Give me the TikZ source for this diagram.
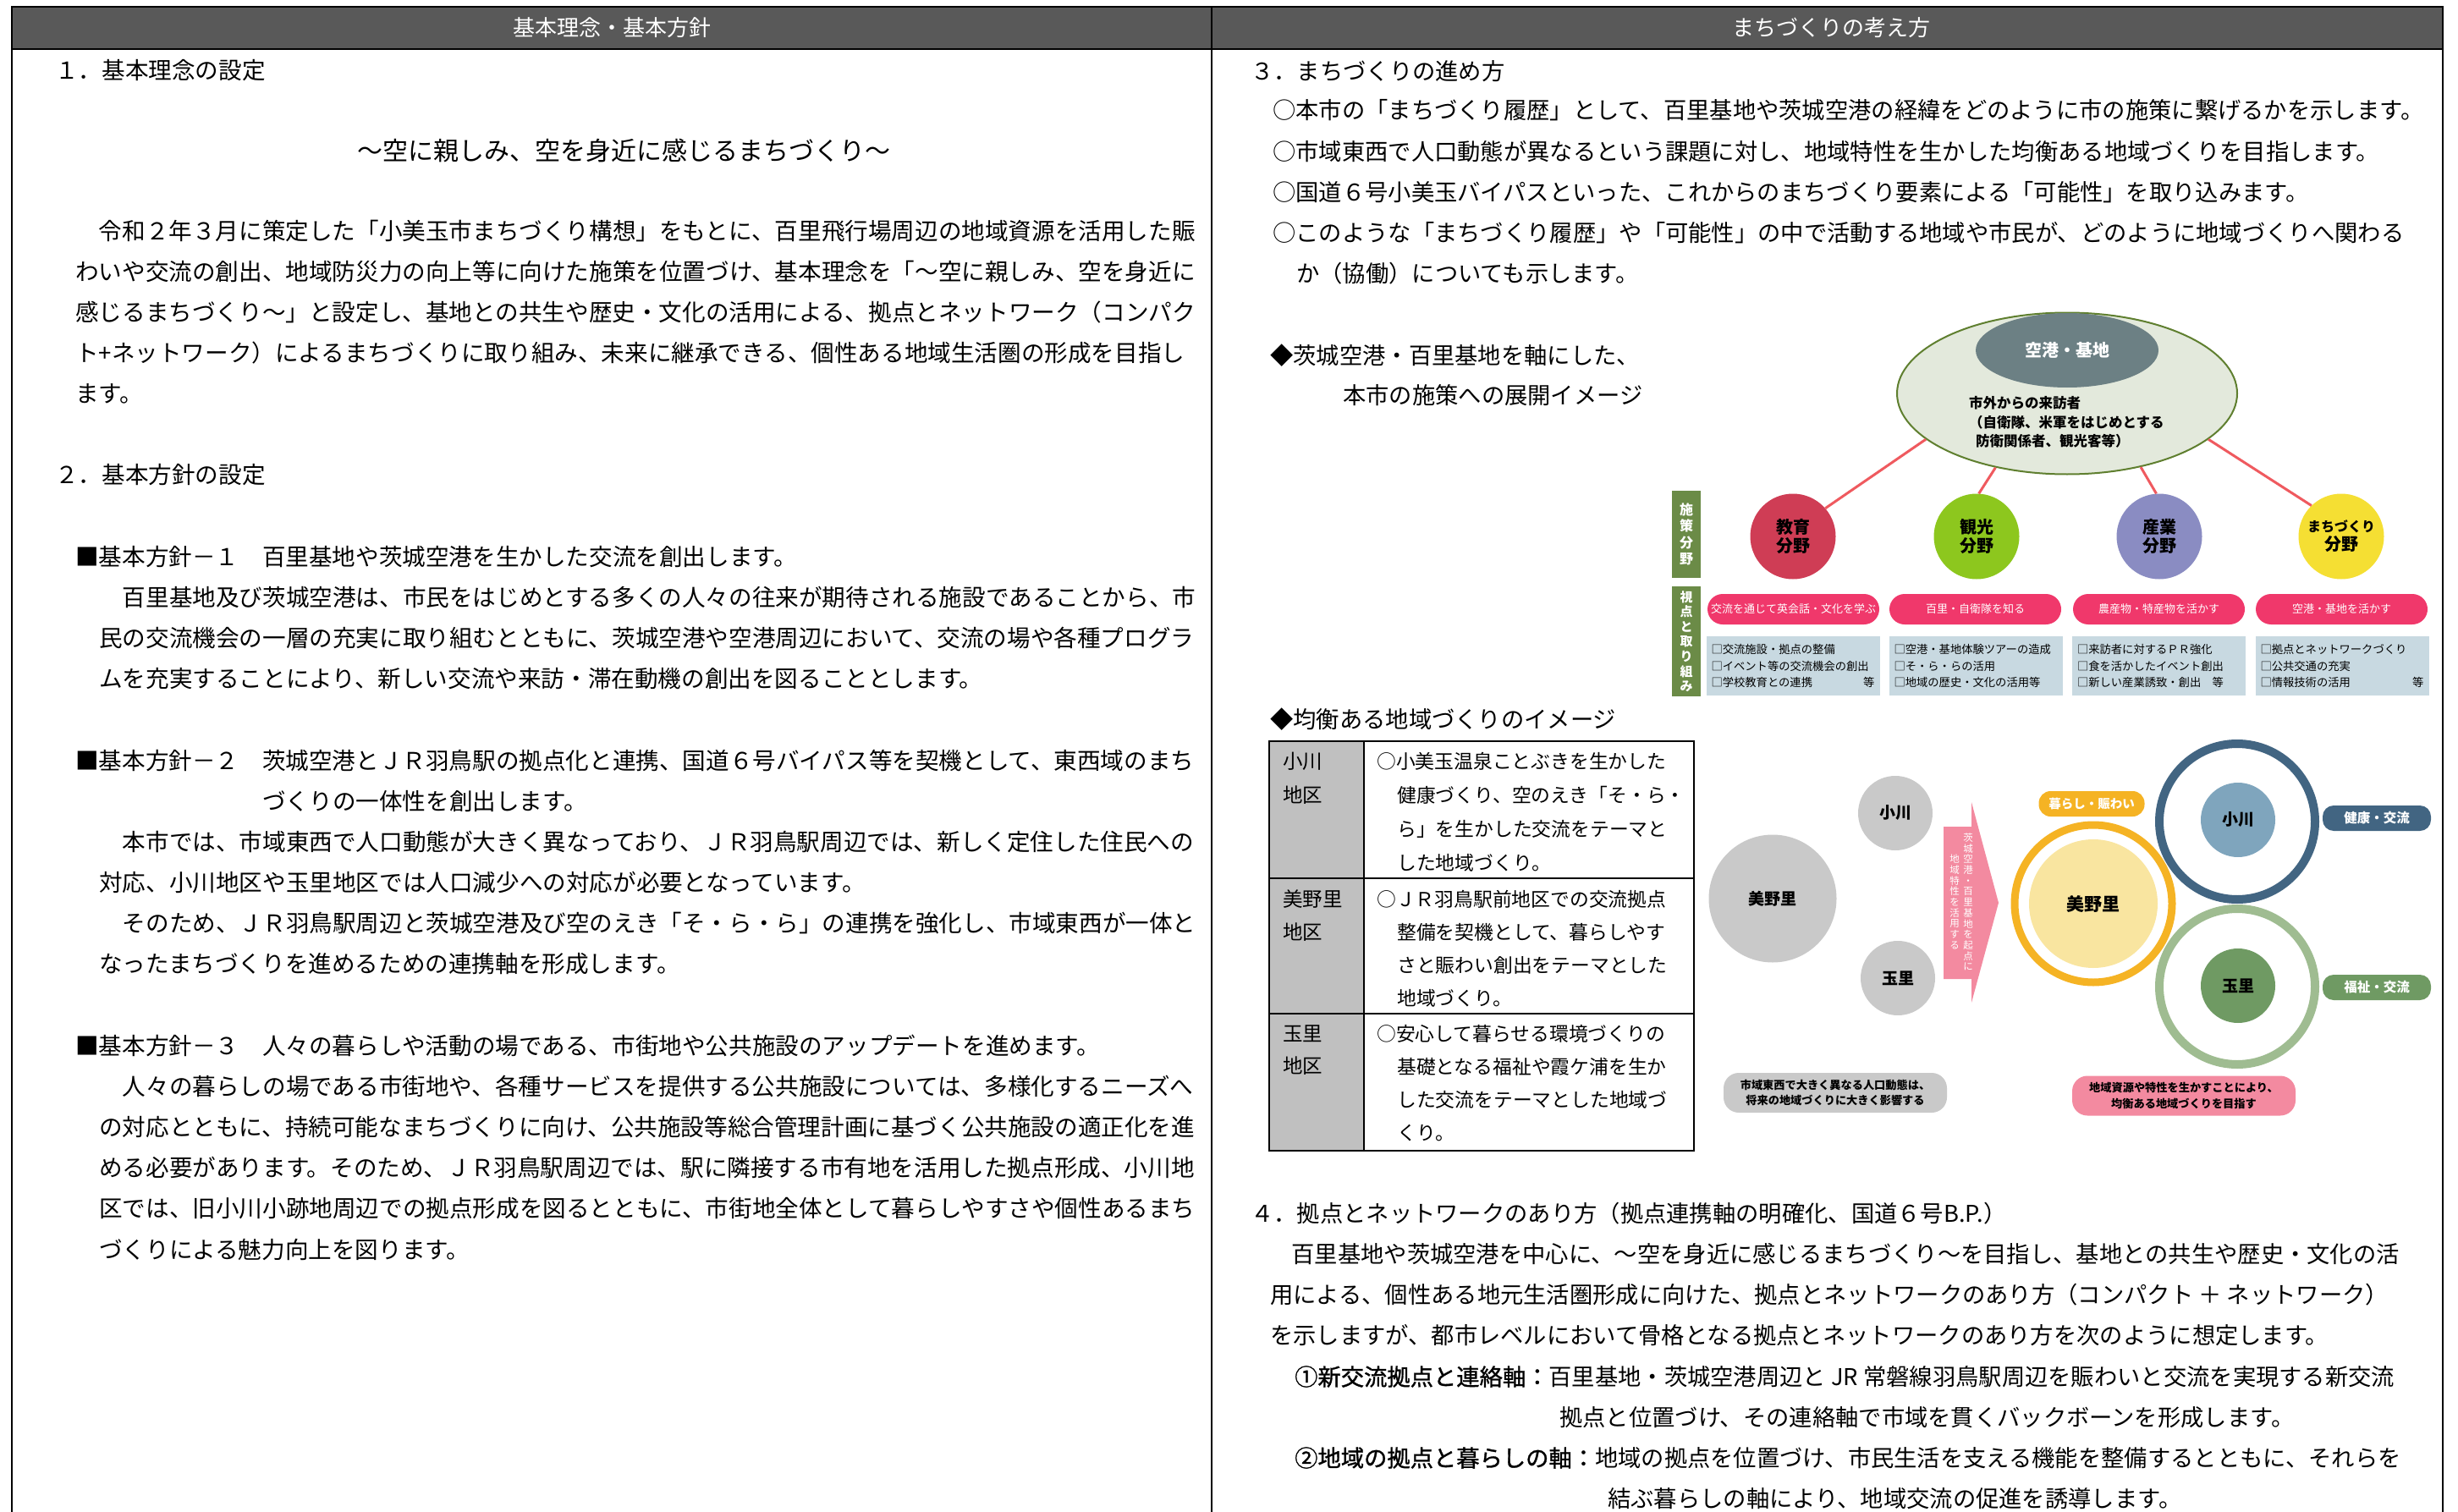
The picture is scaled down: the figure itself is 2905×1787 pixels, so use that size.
\documentclass[tikz,border=0pt]{standalone}
\usepackage{fontspec}
\setmainfont{Noto Sans CJK JP}
\newfontfamily\semib[FakeBold=1.2]{Noto Sans CJK JP}
\usetikzlibrary{shapes.geometric}
\definecolor{hdr}{HTML}{595959}
\definecolor{elfill}{HTML}{E3E9DC}
\definecolor{elline}{HTML}{5F7F2F}
\definecolor{slate}{HTML}{6C8084}
\definecolor{cedu}{HTML}{CF3D55}
\definecolor{ctour}{HTML}{8DC71E}
\definecolor{cind}{HTML}{8A8CC2}
\definecolor{ctown}{HTML}{F5DF33}
\definecolor{redline}{HTML}{EF5A5F}
\definecolor{pinkbar}{HTML}{F0386B}
\definecolor{lblue}{HTML}{C8D9E1}
\definecolor{labgreen}{HTML}{6B8B47}
\definecolor{lgray}{HTML}{C9C9C9}
\definecolor{tgray}{HTML}{C0C0C0}
\definecolor{pinkarr}{HTML}{F38AA0}
\definecolor{orng}{HTML}{F5B324}
\definecolor{paleyel}{HTML}{F9E5A0}
\definecolor{dblue}{HTML}{426582}
\definecolor{ltblue}{HTML}{7FA5BD}
\definecolor{lgreen}{HTML}{9FBC91}
\definecolor{mgreen}{HTML}{6F9A63}
\newcommand{\fs}[2]{\fontsize{#1pt}{#2pt}\selectfont}
\begin{document}
\begin{tikzpicture}[x=1pt,y=-1pt,
  frame/.style={line width=2.2pt, black},
  hdrtext/.style={inner sep=0pt, text=white, font=\fs{26}{30}},
  body/.style={anchor=west, inner sep=0pt, font=\fs{27.6}{33}},
  bodyr/.style={anchor=west, inner sep=0pt, font=\fs{27.3}{33}},
  titlef/.style={inner sep=0pt, font=\fs{30}{36}},
  tbl/.style={anchor=west, inner sep=0pt, font=\fs{22.8}{28}},
  tblh/.style={anchor=west, inner sep=0pt, font=\fs{23.5}{28}},
  field/.style={circle, minimum size=101pt, inner sep=0pt, align=center, font=\bfseries\fs{20}{22}},
  conn/.style={redline, line width=3pt},
  pbar/.style={rectangle, rounded corners=18pt, fill=pinkbar, minimum width=203pt, minimum height=36pt, inner sep=0pt, text=white, font=\fs{13}{14}},
  bluebox/.style={rectangle, fill=lblue, minimum width=205pt, minimum height=70pt, inner sep=6pt, text width=193pt, align=left, font=\fs{13.3}{19.5}},
  glabel/.style={rectangle, fill=labgreen, minimum width=34pt, inner sep=0pt, text=white, align=center},
  gcirc/.style={circle, fill=lgray, inner sep=0pt, font=\bfseries\fs{19}{22}},
  arrtext/.style={align=center, inner sep=0pt, text=white, font=\fs{11.5}{12.7}},
  tag/.style={rectangle, rounded corners=13pt, minimum width=128pt, minimum height=30pt, inner sep=0pt, text=white, font=\bfseries\fs{15.5}{18}},
  note/.style={rectangle, rounded corners=18pt, minimum width=264pt, minimum height=47pt, inner sep=0pt, align=center, font=\bfseries\fs{13.2}{18.5}}
]
\useasboundingbox (0,0) rectangle (2905,1787);
% frame and header
\fill[hdr] (14,8) rectangle (2887,58);
\draw[frame] (14,1787) -- (14,8) -- (2887,8) -- (2887,1787);
\draw[frame] (14,58) -- (2887,58);
\draw[frame] (1432,8) -- (1432,1787);
\node[hdrtext] (hL) at (723,33) {基本理念・基本方針};
\node[hdrtext] (hR) at (2164,33) {まちづくりの考え方};

% ---------------- left column ----------------
\node[body] (t1) at (65,83) {１．基本理念の設定};
\node[titlef] (motto) at (737,178) {～空に親しみ、空を身近に感じるまちづくり～};
\node[body] (p1a) at (89,273) {　令和２年３月に策定した「小美玉市まちづくり構想」をもとに、百里飛行場周辺の地域資源を活用した賑};
\node[body] (p1b) at (89,321) {わいや交流の創出、地域防災力の向上等に向けた施策を位置づけ、基本理念を「～空に親しみ、空を身近に};
\node[body] (p1c) at (89,369) {感じるまちづくり～」と設定し、基地との共生や歴史・文化の活用による、拠点とネットワーク（コンパク};
\node[body] (p1d) at (89,417) {ト+ネットワーク）によるまちづくりに取り組み、未来に継承できる、個性ある地域生活圏の形成を目指し};
\node[body] (p1e) at (89,465) {ます。};
\node[body] (t2) at (65,561) {２．基本方針の設定};
\node[body] (b1) at (89,658) {■基本方針－１　百里基地や茨城空港を生かした交流を創出します。};
\node[body] (b1a) at (117,706) {　百里基地及び茨城空港は、市民をはじめとする多くの人々の往来が期待される施設であることから、市};
\node[body] (b1b) at (117,754) {民の交流機会の一層の充実に取り組むとともに、茨城空港や空港周辺において、交流の場や各種プログラ};
\node[body] (b1c) at (117,802) {ムを充実することにより、新しい交流や来訪・滞在動機の創出を図ることとします。};
\node[body] (b2) at (89,899) {■基本方針－２　茨城空港とＪＲ羽鳥駅の拠点化と連携、国道６号バイパス等を契機として、東西域のまち};
\node[body] (b2x) at (310,947) {づくりの一体性を創出します。};
\node[body] (b2a) at (117,995) {　本市では、市域東西で人口動態が大きく異なっており、ＪＲ羽鳥駅周辺では、新しく定住した住民への};
\node[body] (b2b) at (117,1043) {対応、小川地区や玉里地区では人口減少への対応が必要となっています。};
\node[body] (b2c) at (117,1091) {　そのため、ＪＲ羽鳥駅周辺と茨城空港及び空のえき「そ・ら・ら」の連携を強化し、市域東西が一体と};
\node[body] (b2d) at (117,1139) {なったまちづくりを進めるための連携軸を形成します。};
\node[body] (b3) at (89,1236) {■基本方針－３　人々の暮らしや活動の場である、市街地や公共施設のアップデートを進めます。};
\node[body] (b3a) at (117,1284) {　人々の暮らしの場である市街地や、各種サービスを提供する公共施設については、多様化するニーズへ};
\node[body] (b3b) at (117,1332) {の対応とともに、持続可能なまちづくりに向け、公共施設等総合管理計画に基づく公共施設の適正化を進};
\node[body] (b3c) at (117,1380) {める必要があります。そのため、ＪＲ羽鳥駅周辺では、駅に隣接する市有地を活用した拠点形成、小川地};
\node[body] (b3d) at (117,1428) {区では、旧小川小跡地周辺での拠点形成を図るとともに、市街地全体として暮らしやすさや個性あるまち};
\node[body] (b3e) at (117,1477) {づくりによる魅力向上を図ります。};

% ---------------- right column ----------------
\node[bodyr] (t3) at (1478,84) {３．まちづくりの進め方};
\node[bodyr] (o1) at (1504,130) {○本市の「まちづくり履歴」として、百里基地や茨城空港の経緯をどのように市の施策に繋げるかを示します。};
\node[bodyr] (o2) at (1504,179) {○市域東西で人口動態が異なるという課題に対し、地域特性を生かした均衡ある地域づくりを目指します。};
\node[bodyr] (o3) at (1504,227) {○国道６号小美玉バイパスといった、これからのまちづくり要素による「可能性」を取り込みます。};
\node[bodyr] (o4) at (1504,275) {○このような「まちづくり履歴」や「可能性」の中で活動する地域や市民が、どのように地域づくりへ関わる};
\node[bodyr] (o4b) at (1532,323) {か（協働）についても示します。};
\node[bodyr] (d1) at (1501,420) {◆茨城空港・百里基地を軸にした、};
\node[bodyr] (d2) at (1587,467) {本市の施策への展開イメージ};
\node[bodyr] (d3) at (1501,850) {◆均衡ある地域づくりのイメージ};

% ---- policy diagram ----
\node[ellipse, draw=elline, fill=elfill, line width=2pt, minimum width=402pt, minimum height=191pt, inner sep=0pt] (visit) at (2443,465) {};
\node[ellipse, fill=slate, minimum width=216pt, minimum height=88pt, inner sep=0pt, text=white, font=\bfseries\fs{20}{22}] (base) at (2443,414) {空港・基地};
\node[anchor=west, inner sep=0pt, align=left, font=\bfseries\fs{16.5}{22.5}] (vtxt) at (2327,499) {市外からの来訪者\\（自衛隊、米軍をはじめとする\\\hspace*{8pt}防衛関係者、観光客等）};
\node[field, fill=cedu] (edu) at (2119,634) {教育\\分野};
\node[field, fill=ctour] (tour) at (2336,634) {観光\\分野};
\node[field, fill=cind] (ind) at (2552,634) {産業\\分野};
\node[field, fill=ctown] (town) at (2767,634) {{\fs{16}{22}まちづくり}\\分野};
\draw[conn] (visit.198) -- (edu.41);
\draw[conn] (visit.226) -- (tour.87);
\draw[conn] (visit.-45) -- (ind.94);
\draw[conn] (visit.-18) -- (town.134);
\node[glabel, minimum height=103pt, font=\bfseries\fs{16}{19.5}] (lab1) at (1993,631.5) {施\\策\\分\\野};
\node[glabel, minimum height=130pt, font=\bfseries\fs{15}{17.6}] (lab2) at (1993,758) {視\\点\\と\\取\\り\\組\\み};
\node[pbar] (v1) at (2119.5,720) {交流を通じて英会話・文化を学ぶ};
\node[pbar] (v2) at (2334.5,720) {百里・自衛隊を知る};
\node[pbar] (v3) at (2551.5,720) {農産物・特産物を活かす};
\node[pbar] (v4) at (2767.5,720) {空港・基地を活かす};
\node[bluebox] (a1) at (2119,787) {□交流施設・拠点の整備\\□イベント等の交流機会の創出\\□学校教育との連携\hfill 等};
\node[bluebox] (a2) at (2335,787) {□空港・基地体験ツアーの造成\\□そ・ら・らの活用\\□地域の歴史・文化の活用等};
\node[bluebox] (a3) at (2551.5,787) {□来訪者に対するＰＲ強化\\□食を活かしたイベント創出\\□新しい産業誘致・創出　等};
\node[bluebox] (a4) at (2768,787) {□拠点とネットワークづくり\\□公共交通の充実\\□情報技術の活用\hfill 等};

% ---- table ----
\fill[tgray] (1500,876) rectangle (1612,1360);
\draw[line width=2.2pt] (1500,876) rectangle (2002,1360);
\draw[line width=2.2pt] (1612,876) -- (1612,1360);
\draw[line width=2.2pt] (1500,1038) -- (2002,1038);
\draw[line width=2.2pt] (1500,1198) -- (2002,1198);
\node[tblh] (r1h1) at (1516,900) {小川};
\node[tblh] (r1h2) at (1516,940) {地区};
\node[tbl] (r1a) at (1627,900) {○小美玉温泉ことぶきを生かした};
\node[tbl] (r1b) at (1651,940) {健康づくり、空のえき「そ・ら・};
\node[tbl] (r1c) at (1651,980) {ら」を生かした交流をテーマと};
\node[tbl] (r1d) at (1651,1020) {した地域づくり。};
\node[tblh] (r2h1) at (1516,1063) {美野里};
\node[tblh] (r2h2) at (1516,1102) {地区};
\node[tbl] (r2a) at (1627,1063) {○ＪＲ羽鳥駅前地区での交流拠点};
\node[tbl] (r2b) at (1651,1102) {整備を契機として、暮らしやす};
\node[tbl] (r2c) at (1651,1141) {さと賑わい創出をテーマとした};
\node[tbl] (r2d) at (1651,1180) {地域づくり。};
\node[tblh] (r3h1) at (1516,1222) {玉里};
\node[tblh] (r3h2) at (1516,1260) {地区};
\node[tbl] (r3a) at (1627,1222) {○安心して暮らせる環境づくりの};
\node[tbl] (r3b) at (1651,1261) {基礎となる福祉や霞ケ浦を生か};
\node[tbl] (r3c) at (1651,1300) {した交流をテーマとした地域づ};
\node[tbl] (r3d) at (1651,1339) {くり。};

% ---- balance diagram ----
\node[gcirc, minimum size=151pt] (gmino) at (2095,1062) {美野里};
\node[gcirc, minimum size=88pt] (gogawa) at (2240,961) {小川};
\node[gcirc, minimum size=88pt] (gtama) at (2243,1156) {玉里};
\fill[pinkarr] (2297,977) -- (2330,977) -- (2330,948) -- (2362,1067) -- (2330,1185) -- (2330,1157) -- (2297,1157) -- cycle;
\node[arrtext] (arr1) at (2326,1066) {茨\\城\\空\\港\\・\\百\\里\\基\\地\\を\\起\\点\\に};
\node[arrtext] (arr2) at (2310,1066) {地\\域\\特\\性\\を\\活\\用\\す\\る};
\node[tag, fill=orng, minimum width=125pt, rounded corners=14pt, font=\bfseries\fs{14.5}{16}] (kura) at (2472,950) {暮らし・賑わい};
\node[circle, draw=orng, line width=9pt, minimum size=186pt, inner sep=0pt] (minoR) at (2474,1068) {};
\node[circle, fill=paleyel, minimum size=152pt, inner sep=0pt, font=\bfseries\fs{21}{24}] (minoC) at (2474,1068) {美野里};
\node[circle, draw=dblue, line width=10pt, minimum size=184pt, inner sep=0pt] (ogaR) at (2644,971) {};
\node[circle, draw=lgreen, line width=10pt, minimum size=184pt, inner sep=0pt] (tamR) at (2644,1166) {};
\node[circle, fill=ltblue, minimum size=88pt, inner sep=0pt, font=\bfseries\fs{19}{22}] (ogaC) at (2645,969) {小川};
\node[circle, fill=mgreen, minimum size=88pt, inner sep=0pt, font=\bfseries\fs{19}{22}] (tamC) at (2645,1165) {玉里};
\node[tag, fill=dblue] (kenko) at (2809,967) {健康・交流};
\node[tag, fill=mgreen] (fukushi) at (2809,1167) {福祉・交流};
\node[note, fill=lgray] (nleft) at (2169,1291.5) {市域東西で大きく異なる人口動態は、\\将来の地域づくりに大きく影響する};
\node[note, fill=pinkarr] (nright) at (2581,1295) {地域資源や特性を生かすことにより、\\均衡ある地域づくりを目指す};

% ---- section 4 ----
\node[bodyr] (t4) at (1478,1434) {４．拠点とネットワークのあり方（拠点連携軸の明確化、国道６号B.P.）};
\node[bodyr] (q1) at (1499,1482) {　百里基地や茨城空港を中心に、～空を身近に感じるまちづくり～を目指し、基地との共生や歴史・文化の活};
\node[bodyr] (q2) at (1501,1530) {用による、個性ある地元生活圏形成に向けた、拠点とネットワークのあり方（コンパクト ＋ ネットワーク）};
\node[bodyr] (q3) at (1501,1578) {を示しますが、都市レベルにおいて骨格となる拠点とネットワークのあり方を次のように想定します。};
\node[bodyr] (k1) at (1530,1627) {{\semib ①新交流拠点と連絡軸：}百里基地・茨城空港周辺と JR 常磐線羽鳥駅周辺を賑わいと交流を実現する新交流};
\node[bodyr] (k1b) at (1843,1675) {拠点と位置づけ、その連絡軸で市域を貫くバックボーンを形成します。};
\node[bodyr] (k2) at (1530,1723) {{\semib ②地域の拠点と暮らしの軸：}地域の拠点を位置づけ、市民生活を支える機能を整備するとともに、それらを};
\node[bodyr] (k2b) at (1900,1771) {結ぶ暮らしの軸により、地域交流の促進を誘導します。};
\end{tikzpicture}
\end{document}
